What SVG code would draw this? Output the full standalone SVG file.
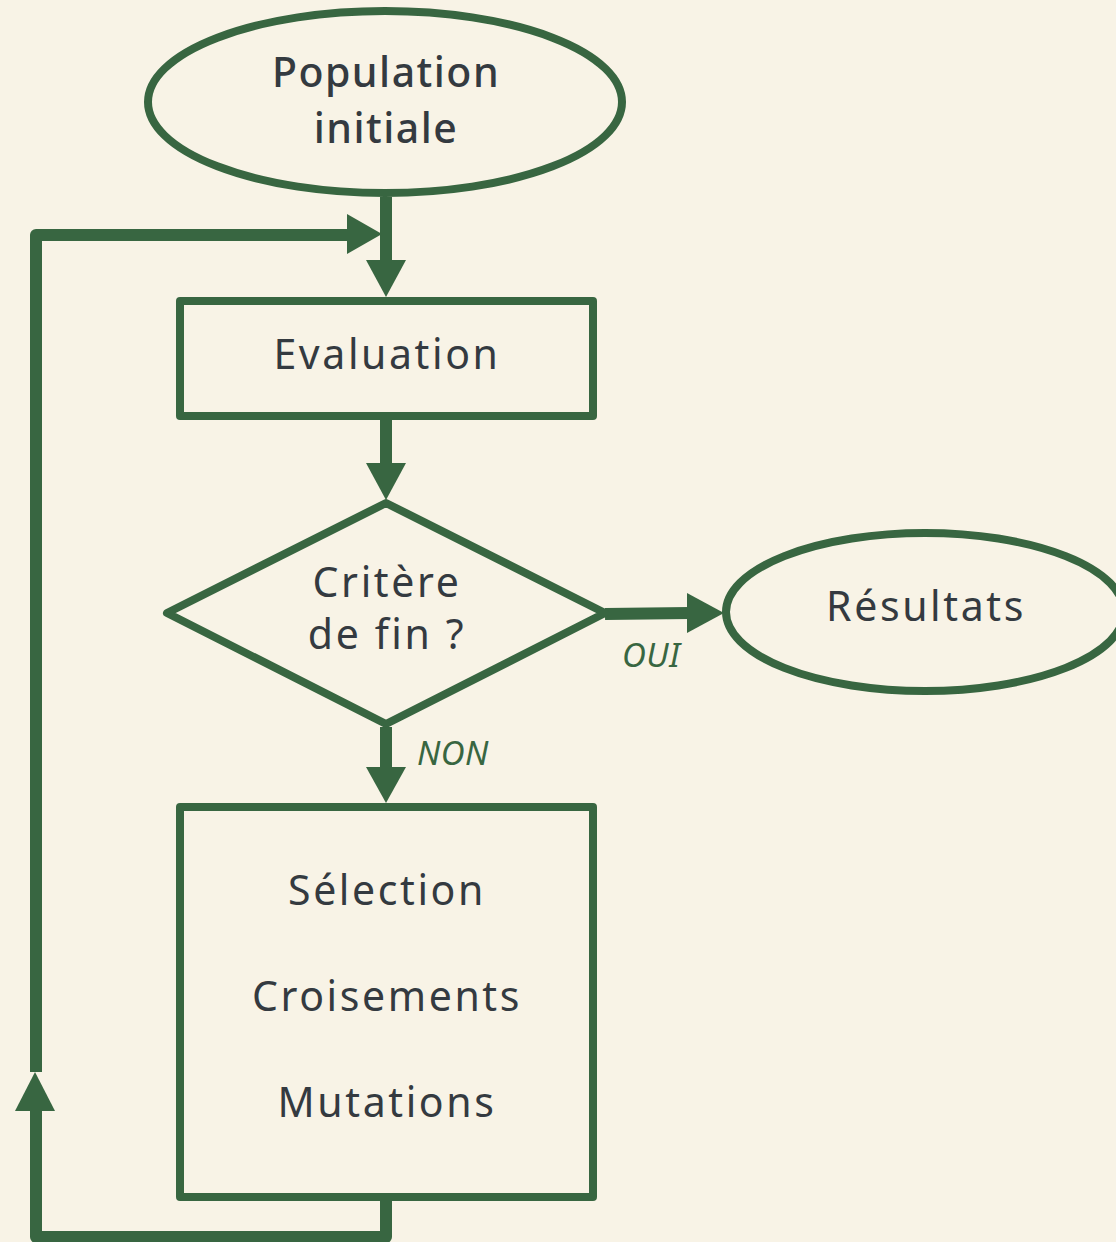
<svg xmlns="http://www.w3.org/2000/svg" width="1116" height="1242" viewBox="0 0 1116 1242">
<defs>
<style>
.shape{fill:none;stroke:#386641;stroke-width:8;stroke-linejoin:round}
.conn{fill:none;stroke:#386641;stroke-width:12;stroke-linejoin:round}
.head{fill:#386641}
.t{font-family:"Noto Sans","Open Sans",sans-serif;font-size:41px;fill:#343a40;text-anchor:middle;letter-spacing:2.6px}
.tb{font-weight:500;letter-spacing:1.5px}
.lbl{font-family:"Noto Sans","Open Sans",sans-serif;font-size:33px;font-style:italic;fill:#386641;letter-spacing:0.5px}
</style>
</defs>
<rect x="0" y="0" width="1116" height="1242" fill="#F8F3E6"/>
<g id="connectors">
<path class="conn" d="M386,197 V262"/>
<polygon class="head" points="366,260 406,260 386,297"/>
<path class="conn" d="M386,420 V466"/>
<polygon class="head" points="366,463 406,463 386,500"/>
<path class="conn" d="M605,614 L690,613"/>
<polygon class="head" points="687,593 687,633 724,613"/>
<path class="conn" d="M386,727 V770"/>
<polygon class="head" points="366,767 406,767 386,803"/>
<path class="conn" d="M386,1200 V1237 H36 V1108"/>
<polygon class="head" points="15,1111 55,1111 35,1072"/>
<path class="conn" d="M36,1072 V235 H350"/>
<polygon class="head" points="347,214 347,254 382,234"/>
</g>
<g id="population">
<ellipse class="shape" cx="385" cy="102" rx="237" ry="91"/>
<text class="t tb" x="386" y="87">Population</text>
<text class="t tb" x="386" y="143">initiale</text>
</g>
<g id="evaluation">
<rect class="shape" x="180" y="301" width="413" height="115"/>
<text class="t" x="387" y="369">Evaluation</text>
</g>
<g id="critere">
<polygon class="shape" points="386,503 605,613 386,724 167,613"/>
<text class="t" x="387" y="597">Critère</text>
<text class="t" x="387" y="649">de fin ?</text>
</g>
<g id="resultats">
<ellipse class="shape" cx="925" cy="612" rx="199" ry="79"/>
<text class="t" x="926" y="621">Résultats</text>
</g>
<g id="operations">
<rect class="shape" x="180" y="807" width="413" height="390"/>
<text class="t" x="387" y="905">Sélection</text>
<text class="t" x="387" y="1011">Croisements</text>
<text class="t" x="387" y="1117">Mutations</text>
</g>
<g id="labels">
<text class="lbl" x="622" y="667">OUI</text>
<text class="lbl" x="417" y="765">NON</text>
</g>
</svg>
